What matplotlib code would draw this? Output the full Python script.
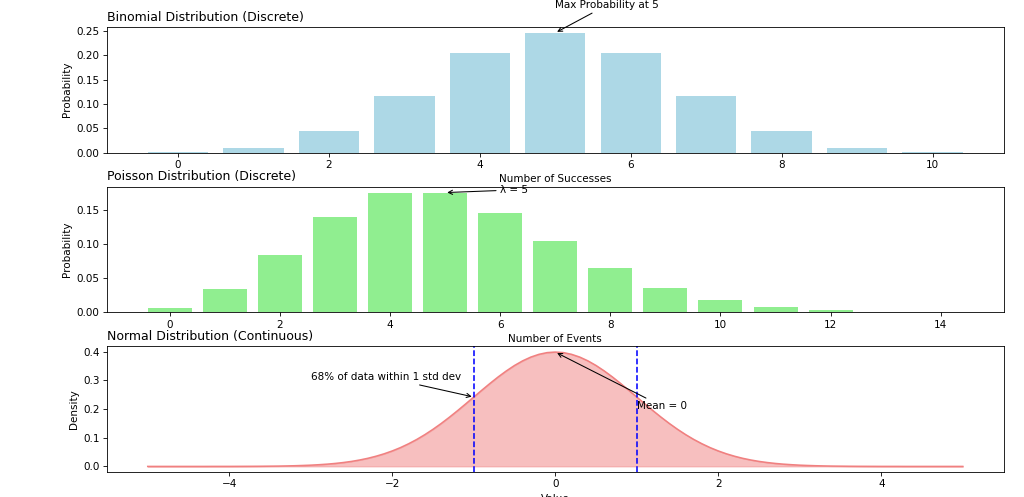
import matplotlib.pyplot as plt

# Three distributions: binomial (n=10, p=0.5), Poisson (lambda=5), standard normal

#################### Input Data ####################
binom_k = [0, 1, 2, 3, 4, 5, 6, 7, 8, 9, 10]
binom_p = [0.0010, 0.0098, 0.0439, 0.1172, 0.2051, 0.2461,
           0.2051, 0.1172, 0.0439, 0.0098, 0.0010]

poisson_k = [0, 1, 2, 3, 4, 5, 6, 7, 8, 9, 10, 11, 12, 13, 14]
poisson_p = [0.0067, 0.0337, 0.0842, 0.1404, 0.1755, 0.1755, 0.1462, 0.1044,
             0.0653, 0.0363, 0.0181, 0.0082, 0.0034, 0.0013, 0.0005]

# density read at steps of 0.1 from -5 to 5
normal_x = [round(-5 + 0.1 * i, 1) for i in range(101)]
normal_y = [0.0000, 0.0000, 0.0000, 0.0000, 0.0000, 0.0000, 0.0000, 0.0000, 0.0001, 0.0001,
            0.0001, 0.0002, 0.0003, 0.0004, 0.0006, 0.0009, 0.0012, 0.0017, 0.0024, 0.0033,
            0.0044, 0.0060, 0.0079, 0.0104, 0.0136, 0.0175, 0.0224, 0.0283, 0.0355, 0.0440,
            0.0540, 0.0656, 0.0790, 0.0940, 0.1109, 0.1295, 0.1497, 0.1714, 0.1942, 0.2179,
            0.2420, 0.2661, 0.2897, 0.3123, 0.3332, 0.3521, 0.3683, 0.3814, 0.3910, 0.3970,
            0.3989,
            0.3970, 0.3910, 0.3814, 0.3683, 0.3521, 0.3332, 0.3123, 0.2897, 0.2661, 0.2420,
            0.2179, 0.1942, 0.1714, 0.1497, 0.1295, 0.1109, 0.0940, 0.0790, 0.0656, 0.0540,
            0.0440, 0.0355, 0.0283, 0.0224, 0.0175, 0.0136, 0.0104, 0.0079, 0.0060, 0.0044,
            0.0033, 0.0024, 0.0017, 0.0012, 0.0009, 0.0006, 0.0004, 0.0003, 0.0002, 0.0001,
            0.0001, 0.0001, 0.0000, 0.0000, 0.0000, 0.0000, 0.0000, 0.0000, 0.0000, 0.0000]

std_lines = [-1, 1]
####################################################

# rendered at 75 dpi so text and lines come out at the reference's scale
fig, axs = plt.subplots(3, 1, figsize=(1024 / 75, 497 / 75), dpi=75)
fig.subplots_adjust(left=0.1045, right=0.98, top=0.946, bottom=0.05, hspace=0.27)

# Binomial
ax = axs[0]
ax.bar(binom_k, binom_p, color='lightblue')
ax.set_title('Binomial Distribution (Discrete)', loc='left')
ax.set_xlabel('Number of Successes')
ax.set_ylabel('Probability')
ax.annotate('Max Probability at 5', xy=(5, max(binom_p)), xytext=(5, 0.297),
            arrowprops=dict(arrowstyle='->', color='black'))

# Poisson
ax = axs[1]
ax.bar(poisson_k, poisson_p, color='lightgreen')
ax.set_title('Poisson Distribution (Discrete)', loc='left')
ax.set_xlabel('Number of Events')
ax.set_ylabel('Probability')
ax.annotate('λ = 5', xy=(5, poisson_p[5]), xytext=(6, 0.175),
            arrowprops=dict(arrowstyle='->', color='black'))

# Normal
ax = axs[2]
ax.plot(normal_x, normal_y, color='lightcoral')
ax.fill_between(normal_x, normal_y, color='lightcoral', alpha=0.5)
for v in std_lines:
    ax.axvline(v, color='blue', linestyle='--')
ax.set_title('Normal Distribution (Continuous)', loc='left')
ax.set_xlabel('Value')
ax.set_ylabel('Density')
ax.annotate('Mean = 0', xy=(0, max(normal_y)), xytext=(1, 0.2),
            arrowprops=dict(arrowstyle='->', color='black'))
ax.annotate('68% of data within 1 std dev', xy=(-1, 0.242), xytext=(-3, 0.3),
            arrowprops=dict(arrowstyle='->', color='black'))

plt.savefig('out.png', dpi=75)
